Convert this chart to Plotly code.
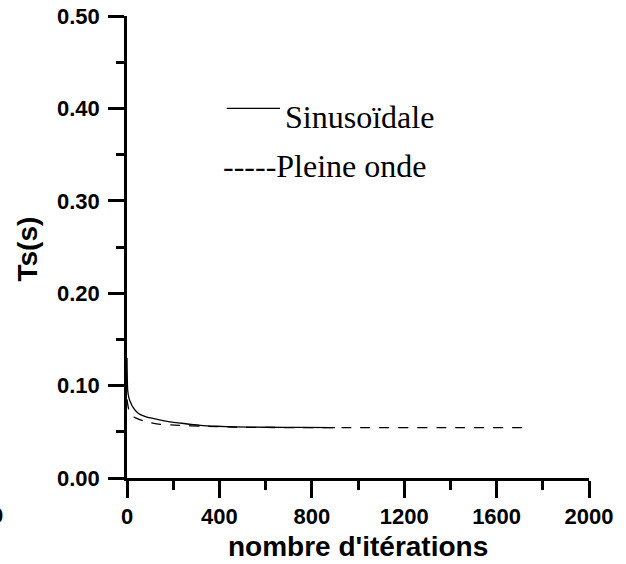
import plotly.graph_objects as go

# Convergence of the switching time Ts (s) versus iteration count
iters_sin = [0, 3, 8, 15, 25, 40, 58, 80, 102, 140, 174, 246, 318, 390, 462, 606, 750, 900]
ts_sin = [0.130, 0.095, 0.087, 0.082, 0.077, 0.072, 0.0686, 0.0665, 0.065, 0.063, 0.0614,
          0.059, 0.057, 0.056, 0.0554, 0.0549, 0.0547, 0.0546]

iters_pleine = [0, 10, 30, 58, 100, 145, 227, 325, 450, 600, 1000, 1400, 1750]
ts_pleine = [0.085, 0.072, 0.066, 0.063, 0.060, 0.058, 0.057, 0.056, 0.0552, 0.0547,
             0.0545, 0.0545, 0.0545]

x_ticks = [0, 400, 800, 1200, 1600, 2000]
y_ticks = [0.0, 0.1, 0.2, 0.3, 0.4, 0.5]

SANS = "Arial, Liberation Sans, sans-serif"
SERIF = "Times New Roman, Liberation Serif, serif"

fig = go.Figure()
fig.add_trace(go.Scatter(x=iters_sin, y=ts_sin, mode="lines", name="Sinusoïdale",
                         line=dict(color="black", width=1.3, shape="spline", smoothing=0.6)))
fig.add_trace(go.Scatter(x=iters_pleine, y=ts_pleine, mode="lines", name="Pleine onde",
                         line=dict(color="black", width=1.3, dash="10px,9px",
                                   shape="spline", smoothing=0.6)))

axis_common = dict(showline=True, linecolor="black", linewidth=2.5, showgrid=False,
                   zeroline=False, ticks="outside", tickcolor="black", tickwidth=2.5,
                   automargin=False,
                   tickfont=dict(family=SANS, size=22, color="black", weight="bold"))

fig.update_xaxes(range=[0, 2000], tickvals=x_ticks, ticktext=[str(v) for v in x_ticks],
                 ticklen=17, ticklabelstandoff=0,
                 minor=dict(dtick=200, tick0=0, ticks="outside", ticklen=9, tickwidth=2.5,
                            tickcolor="black"),
                 **axis_common)
fig.update_yaxes(range=[0, 0.5], tickvals=y_ticks, ticktext=[f"{v:.2f}" for v in y_ticks],
                 ticklen=16, ticklabelstandoff=4,
                 minor=dict(dtick=0.05, tick0=0, ticks="outside", ticklen=8, tickwidth=2.5,
                            tickcolor="black"),
                 **axis_common)

W, H = 626, 564
L, R, T, B = 127, 37, 16, 86
pw, ph = W - L - R, H - T - B


def px(xp):
    return (xp - L) / pw


def py(yp):
    return (H - B - yp) / ph


annotations = [
    dict(text="nombre d'itérations", x=px(358), y=py(546), xref="paper", yref="paper",
         xanchor="center", yanchor="middle", showarrow=False,
         font=dict(family=SANS, size=28, color="black", weight="bold")),
    dict(text="Ts(s)", x=px(27.5), y=py(249), xref="paper", yref="paper", textangle=-90,
         xanchor="center", yanchor="middle", showarrow=False,
         font=dict(family=SANS, size=28, color="black", weight="bold")),
    dict(text="0", x=px(5), y=py(515), xref="paper", yref="paper",
         xanchor="right", yanchor="middle", showarrow=False,
         font=dict(family=SANS, size=22, color="black", weight="bold")),
    dict(text="Sinusoïdale", x=px(282.5), y=py(117), xref="paper", yref="paper",
         xanchor="left", yanchor="middle", showarrow=False,
         font=dict(family=SERIF, size=32, color="black")),
    dict(text="-----Pleine onde", x=px(220.5), y=py(166), xref="paper", yref="paper",
         xanchor="left", yanchor="middle", showarrow=False,
         font=dict(family=SERIF, size=32, color="black")),
]

fig.update_layout(
    width=W, height=H,
    margin=dict(l=L, r=R, t=T, b=B, pad=0),
    plot_bgcolor="white", paper_bgcolor="white",
    showlegend=False,
    annotations=annotations,
    shapes=[dict(type="line", xref="paper", yref="paper",
                 x0=px(226.7), x1=px(280), y0=py(108.3), y1=py(108.3),
                 line=dict(color="black", width=1.3))],
)

fig.write_html("out.html")
